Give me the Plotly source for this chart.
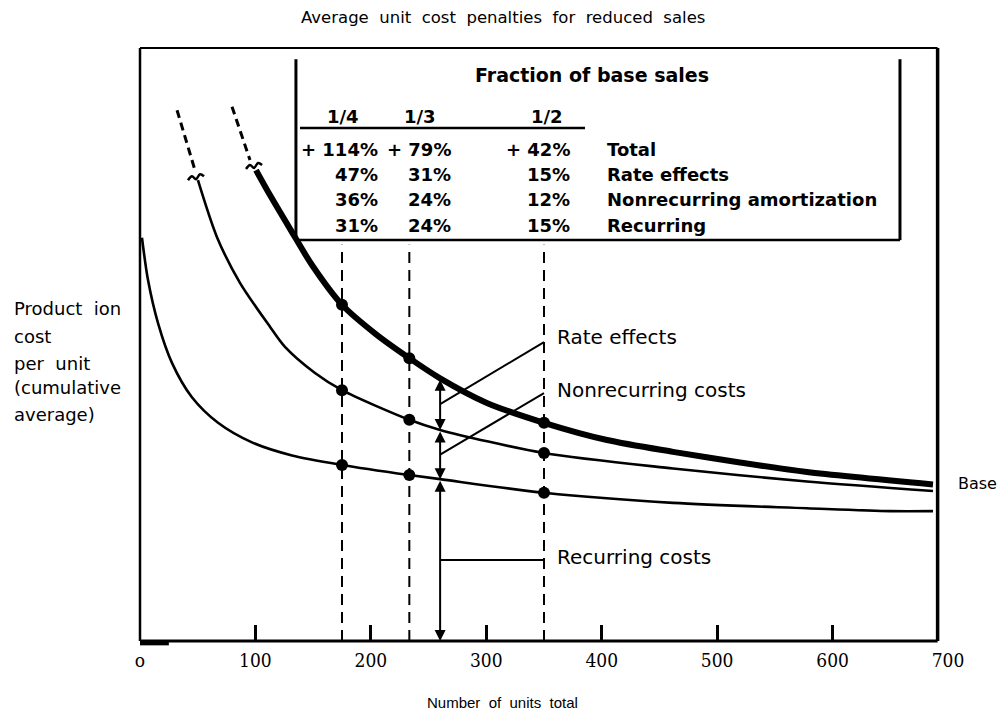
import plotly.graph_objects as go

# ---------------- data ----------------
tick_values = [0, 100, 200, 300, 400, 500, 600, 700]
tick_labels = ["o", "100", "200", "300", "400", "500", "600", "700"]
inner_tick_values = [100, 200, 300, 400, 500, 600]

base_sales = 700
fraction_labels = ["1/4", "1/3", "1/2"]
fractions = [1 / 4, 1 / 3, 1 / 2]
reduced_sales = [base_sales * f for f in fractions]      # 175, 233.3, 350
arrow_x = 260

# thick curve: total cost per unit at reduced sales
total_x = [100.5, 112.6, 130, 149, 175, 204, 233.3, 260, 300, 350, 404.6, 461.8, 519.8, 577.8, 687]
total_y = [79.4, 75.2, 69.5, 63.4, 56.7, 51.8, 47.7, 44.3, 40.2, 36.8, 33.9, 31.9, 30.1, 28.5, 26.4]
total_dash_x = [79.7, 87.5, 95.3]
total_dash_y = [90.1, 85.7, 81.1]

# middle curve: recurring + nonrecurring
mid_x = [50.2, 66.7, 86.6, 112.6, 125.6, 151.6, 175, 233.3, 260, 350, 461.8, 577.8, 687]
mid_y = [77.7, 68.1, 60.4, 53.0, 49.6, 45.2, 42.3, 37.3, 35.6, 31.7, 29.1, 26.9, 25.3]
mid_dash_x = [32.1, 39.9, 47.6]
mid_dash_y = [89.5, 84.5, 79.4]

# lower curve: recurring costs
rec_x = [1.7, 6.9, 15.6, 27.7, 45.0, 67.6, 97.0, 131.7, 175, 233.3, 260, 350, 461.8, 577.8, 649.7, 687]
rec_y = [68.0, 60.9, 53.6, 46.9, 41.1, 36.8, 33.5, 31.3, 29.7, 28.0, 27.3, 25.0, 23.3, 22.4, 21.9, 21.9]

# values at the three reduced-sales points (dots)
total_at_cuts = [56.7, 47.7, 36.8]
mid_at_cuts = [42.3, 37.3, 31.7]
rec_at_cuts = [29.7, 28.0, 25.0]

# curve values at the arrow (taken from the curves above)
arrow_levels = [total_y[total_x.index(arrow_x)], mid_y[mid_x.index(arrow_x)],
                rec_y[rec_x.index(arrow_x)], 0]

# table
table_rows = ["Total", "Rate effects", "Nonrecurring amortization", "Recurring"]
pen_quarter = ["+ 114%", "47%", "36%", "31%"]
pen_third = ["+ 79%", "31%", "24%", "24%"]
pen_half = ["+ 42%", "15%", "12%", "15%"]

leader_labels = ["Rate effects", "Nonrecurring costs", "Recurring costs"]
leader_label_y = [51.3, 42.3, 14.2]
leader_end_y = [50.4, 41.8]

y_title_lines = ["Product\u00a0 ion", "cost", "per\u00a0 unit", "(cumulative", "average)"]

# break marks (tilde) at start of solid curves
mark_dx = [-8, -4, 0, 4, 8]      # px offsets
mark_dy = [3, -1, 2, -3, -1]

# ---------------- scales ----------------
PX_X = 1.1543   # px per x unit
PX_Y = 5.93     # px per y unit
X_RANGE = [-2.6, 700]
Y_RANGE = [-1, 101]

SANS = "DejaVu Sans, Verdana, sans-serif"
LSANS = "Liberation Sans, Arial, sans-serif"
SERIF = "DejaVu Serif Condensed, Liberation Serif, serif"

fig = go.Figure()

# dashed extensions
for dx, dy in [(total_dash_x, total_dash_y), (mid_dash_x, mid_dash_y)]:
    fig.add_trace(go.Scatter(x=dx, y=dy, mode="lines",
                             line=dict(color="black", width=3, dash="8px,5px"),
                             hoverinfo="skip", showlegend=False))

# break marks
for cx, cy in [(mid_x[0] - 1.7, mid_y[0] + 0.5), (total_x[0] - 1.7, total_y[0] + 0.7)]:
    fig.add_trace(go.Scatter(x=[cx + d / PX_X for d in mark_dx],
                             y=[cy - d / PX_Y for d in mark_dy],
                             mode="lines", line=dict(color="black", width=2.5, shape="spline"),
                             hoverinfo="skip", showlegend=False))

# curves
fig.add_trace(go.Scatter(x=rec_x, y=rec_y, mode="lines",
                         line=dict(color="black", width=2.6, shape="spline", smoothing=0.8),
                         hoverinfo="skip", showlegend=False))
fig.add_trace(go.Scatter(x=mid_x, y=mid_y, mode="lines",
                         line=dict(color="black", width=2.6, shape="spline", smoothing=0.8),
                         hoverinfo="skip", showlegend=False))
fig.add_trace(go.Scatter(x=total_x, y=total_y, mode="lines",
                         line=dict(color="black", width=6, shape="spline", smoothing=0.8),
                         hoverinfo="skip", showlegend=False))

# dots
fig.add_trace(go.Scatter(x=reduced_sales * 3,
                         y=total_at_cuts + mid_at_cuts + rec_at_cuts,
                         mode="markers", marker=dict(color="black", size=12),
                         hoverinfo="skip", showlegend=False))

# invisible trace for tick overlay axis
fig.add_trace(go.Scatter(x=[0], y=[0], xaxis="x2", mode="markers",
                         marker=dict(opacity=0), hoverinfo="skip", showlegend=False))

shapes = []


def line(x0, y0, x1, y1, w=2, dash=None):
    return dict(type="line", xref="x", yref="y", x0=x0, y0=y0, x1=x1, y1=y1,
                line=dict(color="black", width=w, dash=dash))


# frame
shapes.append(line(0, 0, 0, 100, 2.5))
shapes.append(line(0, 100, 691, 100, 2))
shapes.append(line(691, 0, 691, 100, 3.5))
shapes.append(line(0, 0, 691, 0, 3))
shapes.append(line(0, -0.3, 25, -0.3, 5))

# table box
tbl_l, tbl_r, tbl_t, tbl_b = 135.1, 658.4, 98.1, 67.6
shapes.append(line(tbl_l, tbl_t, tbl_l, tbl_b, 3))
shapes.append(line(tbl_r, tbl_t, tbl_r, tbl_b, 3))
shapes.append(line(tbl_l, tbl_b, tbl_r, tbl_b, 2.5))
shapes.append(line(138.6, 86.5, 385.5, 86.5, 2.5))

# dashed verticals at reduced sales
for xs in reduced_sales:
    shapes.append(line(xs, 0, xs, 66.8, 2, "11px,7px"))

# leader lines
mid_top = (arrow_levels[0] + arrow_levels[1]) / 2
mid_mid = (arrow_levels[1] + arrow_levels[2]) / 2
mid_low = (arrow_levels[2] + arrow_levels[3]) / 2
shapes.append(line(arrow_x, mid_top, reduced_sales[2], leader_end_y[0], 2))
shapes.append(line(arrow_x, mid_mid, reduced_sales[2], leader_end_y[1], 2))
shapes.append(line(arrow_x, mid_low, reduced_sales[2], mid_low, 2))

annotations = []
# double arrows between curves
for a, b in zip(arrow_levels[:-1], arrow_levels[1:]):
    annotations.append(dict(x=arrow_x, y=b, ax=arrow_x, ay=a, xref="x", yref="y",
                            axref="x", ayref="y", text="", showarrow=True,
                            arrowhead=2, startarrowhead=2, arrowside="end+start",
                            arrowsize=1.1, startarrowsize=1.1, arrowwidth=2,
                            arrowcolor="black", standoff=0, startstandoff=0))

# leader labels
for txt, yy in zip(leader_labels, leader_label_y):
    annotations.append(dict(x=359.5, y=yy, xref="x", yref="y", text=txt, showarrow=False,
                            xanchor="left", yanchor="middle",
                            font=dict(family=SANS, size=20, color="black")))

# table text
annotations.append(dict(x=288.5, y=95.4, xref="x", yref="y", text="<b>Fraction of base sales</b>",
                        showarrow=False, xanchor="left", yanchor="middle",
                        font=dict(family=SANS, size=19, color="black")))
for lab, xc in zip(fraction_labels, [175.9, 242.6, 352.6]):
    annotations.append(dict(x=xc, y=88.4, xref="x", yref="y", text="<b>%s</b>" % lab,
                            showarrow=False, xanchor="center", yanchor="middle",
                            font=dict(family=SANS, size=18, color="black")))
row_y = [82.8, 78.6, 74.4, 70.1]
for col, xr in zip([pen_quarter, pen_third, pen_half], [207.9, 271.2, 374.3]):
    for v, yy in zip(col, row_y):
        annotations.append(dict(x=xr, y=yy, xref="x", yref="y", text="<b>%s</b>" % v,
                                showarrow=False, xanchor="right", yanchor="middle",
                                font=dict(family=SANS, size=18, color="black")))
for lab, yy in zip(table_rows, row_y):
    annotations.append(dict(x=402.8, y=yy, xref="x", yref="y", text="<b>%s</b>" % lab,
                            showarrow=False, xanchor="left", yanchor="middle",
                            font=dict(family=SANS, size=18, color="black")))

NB = "\u00a0 "
# title, axis titles, Base
annotations.append(dict(x=0.451, y=1.0397, xref="paper", yref="paper",
                        text=NB.join("Average unit cost penalties for reduced sales".split()),
                        showarrow=False, xanchor="center", yanchor="middle",
                        font=dict(family=SANS, size=16.5, color="black")))
annotations.append(dict(x=0.451, y=-0.091, xref="paper", yref="paper",
                        text=NB.join("Number of units total".split()),
                        showarrow=False, xanchor="center", yanchor="middle",
                        font=dict(family=LSANS, size=15, color="black")))
for txt, yy in zip(y_title_lines, [0.5603, 0.5124, 0.4694, 0.4281, 0.3851]):
    annotations.append(dict(x=-0.154, y=yy, xref="paper", yref="paper", text=txt,
                            showarrow=False, xanchor="left", yanchor="middle",
                            font=dict(family=SANS, size=18, color="black")))
annotations.append(dict(x=1.0099, y=0.271, xref="paper", yref="paper", text="Base",
                        showarrow=False, xanchor="left", yanchor="middle",
                        font=dict(family=SANS, size=16, color="black")))

fig.update_layout(
    width=999, height=715,
    margin=dict(l=129, r=59, t=34, b=76),
    paper_bgcolor="white", plot_bgcolor="white",
    showlegend=False,
    xaxis=dict(range=X_RANGE, tickvals=tick_values, ticktext=tick_labels,
               showgrid=False, zeroline=False, showline=False, ticks="",
               tickfont=dict(family=SERIF, size=19, color="black")),
    xaxis2=dict(range=X_RANGE, overlaying="x", anchor="free",
                position=(0 - Y_RANGE[0]) / (Y_RANGE[1] - Y_RANGE[0]),
                tickvals=inner_tick_values, ticks="inside", ticklen=16, tickwidth=2.5,
                tickcolor="black", showticklabels=False, showgrid=False,
                zeroline=False, showline=False),
    yaxis=dict(range=Y_RANGE, showgrid=False, zeroline=False, showline=False,
               showticklabels=False, ticks=""),
    shapes=shapes,
    annotations=annotations,
)

fig.write_html("out.html")
